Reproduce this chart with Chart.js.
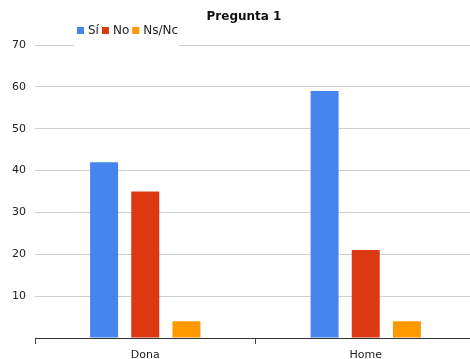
<!DOCTYPE html>
<html>
<head>
<meta charset="utf-8">
<title>Pregunta 1</title>
<script src="https://cdn.jsdelivr.net/npm/chart.js@4/dist/chart.umd.min.js"></script>
<style>
  html, body { margin: 0; padding: 0; background: #fff; overflow: hidden; }
  #wrap { width: 470px; height: 359px; overflow: hidden; }
</style>
</head>
<body>
<div id="wrap"><canvas id="barChart" width="476" height="359"></canvas></div>
<script>
// Chart data
const categories = ['Dona', 'Home'];
const seriesLabels = ['Sí', 'No', 'Ns/Nc'];
const siValues = [42, 59];
const noValues = [35, 21];
const nsncValues = [4, 4];
const seriesColors = ['#4684ee', '#dc3912', '#ff9900'];

const axisMax = 70;
const axisStep = 10;

const FONT = "'DejaVu Sans', Verdana, sans-serif";

// Small legend drawn over the top gridline, on a white patch
const topLegend = {
  id: 'topLegend',
  afterDatasetsDraw(chart) {
    const ctx = chart.ctx;
    ctx.save();
    ctx.fillStyle = '#ffffff';
    ctx.fillRect(74, 20, 105, 27);
    ctx.font = '12px ' + FONT;
    ctx.textBaseline = 'middle';
    let x = 77;
    chart.data.datasets.forEach(ds => {
      ctx.fillStyle = ds.backgroundColor;
      ctx.fillRect(x, 27, 7, 7);
      x += 11;
      ctx.fillStyle = '#222';
      ctx.fillText(ds.label, x, 31);
      x += ctx.measureText(ds.label).width + 3;
    });
    ctx.restore();
  }
};

const barCtx = document.getElementById('barChart').getContext('2d');

// The canvas runs a few pixels past the right edge of the page, so the
// last category is clipped the same way the plot area is.
new Chart(barCtx, {
  type: 'bar',
  data: {
    labels: categories,
    datasets: [
      { label: seriesLabels[0], data: siValues, backgroundColor: seriesColors[0] },
      { label: seriesLabels[1], data: noValues, backgroundColor: seriesColors[1] },
      { label: seriesLabels[2], data: nsncValues, backgroundColor: seriesColors[2] },
    ],
  },
  options: {
    responsive: false,
    animation: false,
    events: [],
    layout: {
      padding: { left: 12, right: 0, top: 0, bottom: 0 },
    },
    datasets: {
      bar: {
        categoryPercentage: 0.56,
        barPercentage: 0.68,
      },
    },
    plugins: {
      legend: { display: false },
      tooltip: { enabled: false },
      title: {
        display: true,
        text: 'Pregunta 1',
        color: '#111',
        font: { family: FONT, size: 12, weight: 'bold', lineHeight: 1.2 },
        padding: { top: 10, bottom: 20.6 },
      },
    },
    scales: {
      x: {
        grid: {
          display: true,
          drawOnChartArea: false,
          drawTicks: true,
          tickLength: 6,
          color: '#444',
        },
        border: { display: true, color: '#333', width: 1 },
        ticks: {
          color: '#222',
          padding: 5,
          font: { family: FONT, size: 11 },
        },
        afterFit(scale) { scale.height = 21; },
      },
      y: {
        min: 0,
        max: axisMax,
        grid: { color: '#cfcfcf', drawTicks: false },
        border: { display: false },
        ticks: {
          stepSize: axisStep,
          padding: 9,
          color: '#222',
          font: { family: FONT, size: 11 },
          callback: value => (value === 0 ? '' : value),
        },
        afterFit(scale) { scale.width = 23; },
      },
    },
  },
  plugins: [topLegend],
});
</script>
</body>
</html>
